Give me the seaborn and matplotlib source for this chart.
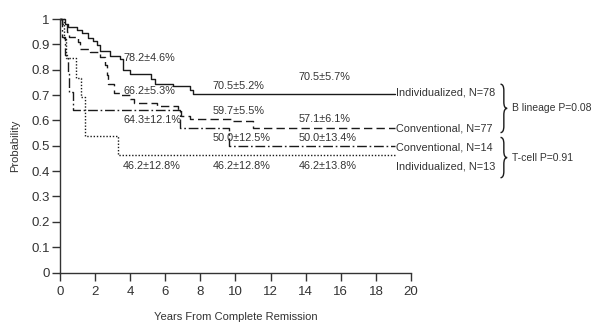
import matplotlib
matplotlib.use("Agg")
import matplotlib.pyplot as plt
import seaborn as sns
from matplotlib.path import Path
from matplotlib.patches import PathPatch

# Kaplan-Meier style step curves (years, probability)
ind_b_t = [0, 0.3, 0.45, 0.95, 1.25, 1.6, 1.9, 2.1, 2.3, 2.85, 3.4, 3.6, 4.0, 5.2, 5.4, 6.45, 7.4, 7.55, 19.1]
ind_b_s = [1, 0.98, 0.97, 0.958, 0.945, 0.925, 0.913, 0.898, 0.874, 0.855, 0.844, 0.80, 0.782, 0.762, 0.745, 0.734, 0.72, 0.705, 0.705]

conv_b_t = [0, 0.1, 0.4, 0.5, 1.0, 1.15, 1.7, 2.3, 2.55, 2.65, 2.75, 3.1, 3.4, 4.0, 4.2, 5.5, 6.75, 6.9, 7.4, 9.8, 11.0, 19.1]
conv_b_s = [1, 0.98, 0.95, 0.93, 0.91, 0.88, 0.87, 0.85, 0.82, 0.78, 0.745, 0.71, 0.70, 0.685, 0.667, 0.655, 0.64, 0.616, 0.607, 0.597, 0.571, 0.571]

conv_t_t = [0, 0.1, 0.3, 0.45, 0.5, 0.75, 6.85, 9.65, 19.1]
conv_t_s = [1, 0.929, 0.857, 0.786, 0.714, 0.643, 0.571, 0.5, 0.5]

ind_t_t = [0, 0.2, 0.35, 0.9, 1.2, 1.4, 3.3, 19.1]
ind_t_s = [1, 0.923, 0.846, 0.769, 0.692, 0.538, 0.462, 0.462]

# estimates printed on the plot: (year, probability, text)
estimates = [
    (3.6, 0.845, "78.2\u00b14.6%"), (3.6, 0.715, "66.2\u00b15.3%"),
    (3.6, 0.600, "64.3\u00b112.1%"), (3.6, 0.420, "46.2\u00b112.8%"),
    (8.7, 0.734, "70.5\u00b15.2%"), (8.7, 0.636, "59.7\u00b15.5%"),
    (8.7, 0.532, "50.0\u00b112.5%"), (8.7, 0.420, "46.2\u00b112.8%"),
    (13.6, 0.770, "70.5\u00b15.7%"), (13.6, 0.604, "57.1\u00b16.1%"),
    (13.6, 0.532, "50.0\u00b113.4%"), (13.6, 0.420, "46.2\u00b113.8%"),
]
end_labels = [(0.711, "Individualized, N=78"), (0.568, "Conventional, N=77"),
              (0.493, "Conventional, N=14"), (0.418, "Individualized, N=13")]
groups = [(0.743, 0.552, "B lineage P=0.08"), (0.533, 0.374, "T-cell P=0.91")]

sns.set_style("ticks")
plt.rcParams["font.family"] = ["Liberation Sans", "DejaVu Sans"]
plt.rcParams["font.size"] = 7.8

fig = plt.figure(figsize=(6, 3.34), dpi=100)
ax = fig.add_axes([0.1, 0.184, 0.585, 0.759])

curves = [
    (ind_b_t, ind_b_s, "-"),
    (conv_b_t, conv_b_s, (0, (6, 3))),
    (conv_t_t, conv_t_s, (0, (7, 2, 1.2, 2))),
    (ind_t_t, ind_t_s, (0, (1, 1.3))),
]
for t, s, ls in curves:
    sns.lineplot(x=t, y=s, ax=ax, color="#1a1a1a", lw=1.0, linestyle=ls,
                 drawstyle="steps-post", estimator=None, sort=False, clip_on=False)

for x, y, txt in estimates:
    ax.text(x, y, txt, ha="left", va="center", color="#333333")
for y, txt in end_labels:
    ax.text(19.15, y, txt, ha="left", va="center", color="#333333", clip_on=False)


def brace(ax, x0, y_top, y_bot, w=0.38):
    ym = (y_top + y_bot) / 2
    d = 0.025
    xm = x0 + w / 2
    verts = [(x0, y_top), (xm, y_top), (xm, y_top - d),
             (xm, ym + d), (xm, ym), (x0 + w, ym),
             (xm, ym), (xm, ym - d),
             (xm, y_bot + d), (xm, y_bot), (x0, y_bot)]
    codes = [Path.MOVETO, Path.CURVE3, Path.CURVE3,
             Path.LINETO, Path.CURVE3, Path.CURVE3,
             Path.CURVE3, Path.CURVE3,
             Path.LINETO, Path.CURVE3, Path.CURVE3]
    ax.add_patch(PathPatch(Path(verts, codes), fill=False, lw=1.0,
                           edgecolor="#1a1a1a", clip_on=False))
    return ym


for y_top, y_bot, txt in groups:
    ym = brace(ax, 25.1, y_top, y_bot)
    ax.text(25.75, ym, txt, ha="left", va="center", color="#333333",
            fontsize=7.5, clip_on=False)

ax.set_xlim(0, 20)
ax.set_ylim(0, 1)
ax.set_xticks(range(0, 21, 2))
ax.set_yticks([i / 10 for i in range(11)])
ax.set_yticklabels(["0"] + [f"{i / 10:.1f}" for i in range(1, 10)] + ["1"])
ax.tick_params(labelsize=9.5, length=5.5, width=1, color="#333333", labelcolor="#333333")
ax.tick_params(axis="y", pad=2)
ax.tick_params(axis="x", pad=4)
ax.set_xlabel("Years From Complete Remission", fontsize=8, color="#333333")
ax.set_ylabel("Probability", fontsize=8, color="#333333")
ax.xaxis.set_label_coords(0.5, -0.155)
ax.yaxis.set_label_coords(-0.115, 0.5)
for sp in ["left", "bottom"]:
    ax.spines[sp].set_linewidth(1)
    ax.spines[sp].set_color("#333333")
sns.despine(ax=ax)

fig.savefig("out.png", dpi=100)
